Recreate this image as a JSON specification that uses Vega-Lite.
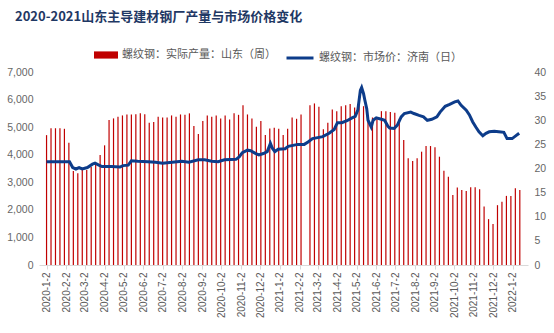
{
  "$schema": "https://vega.github.io/schema/vega-lite/v6.json",
  "autosize": {"type": "none"},
  "width": 489,
  "height": 193,
  "padding": {"left": 39, "top": 72, "right": 26, "bottom": 68},
  "background": "white",
  "config": {"view": {"stroke": null}, "font": "Noto Sans CJK SC"},
  "title": {
    "text": "2020-2021山东主导建材钢厂产量与市场价格变化",
    "anchor": "start",
    "frame": "group",
    "dx": -24,
    "dy": 13,
    "offset": 32,
    "fontSize": 13,
    "fontWeight": "bold",
    "color": "#1F3864",
    "font": "Noto Sans CJK SC"
  },
  "datasets": {
    "bars": [
      {"d": "2020-01-02", "v": 4710}, {"d": "2020-01-09", "v": 4960}, {"d": "2020-01-16", "v": 4960}, {"d": "2020-01-23", "v": 4960},
      {"d": "2020-01-30", "v": 4940}, {"d": "2020-02-06", "v": 4435}, {"d": "2020-02-13", "v": 3410}, {"d": "2020-02-20", "v": 3330},
      {"d": "2020-02-27", "v": 3470}, {"d": "2020-03-05", "v": 3450}, {"d": "2020-03-12", "v": 3550}, {"d": "2020-03-19", "v": 3700},
      {"d": "2020-03-26", "v": 3990}, {"d": "2020-04-02", "v": 4340}, {"d": "2020-04-09", "v": 5256}, {"d": "2020-04-16", "v": 5317},
      {"d": "2020-04-23", "v": 5375}, {"d": "2020-04-30", "v": 5425}, {"d": "2020-05-07", "v": 5460}, {"d": "2020-05-14", "v": 5460},
      {"d": "2020-05-21", "v": 5470}, {"d": "2020-05-28", "v": 5500}, {"d": "2020-06-04", "v": 5470}, {"d": "2020-06-11", "v": 5160},
      {"d": "2020-06-18", "v": 5190}, {"d": "2020-06-25", "v": 5375}, {"d": "2020-07-02", "v": 5350}, {"d": "2020-07-09", "v": 5350},
      {"d": "2020-07-16", "v": 5425}, {"d": "2020-07-23", "v": 5375}, {"d": "2020-07-30", "v": 5460}, {"d": "2020-08-06", "v": 5447},
      {"d": "2020-08-13", "v": 5500}, {"d": "2020-08-20", "v": 5040}, {"d": "2020-08-27", "v": 4750}, {"d": "2020-09-03", "v": 5220},
      {"d": "2020-09-10", "v": 5425}, {"d": "2020-09-17", "v": 5375}, {"d": "2020-09-24", "v": 5425}, {"d": "2020-10-01", "v": 5317},
      {"d": "2020-10-08", "v": 5425}, {"d": "2020-10-15", "v": 5280}, {"d": "2020-10-22", "v": 5500}, {"d": "2020-10-29", "v": 5447},
      {"d": "2020-11-05", "v": 5798}, {"d": "2020-11-12", "v": 5460}, {"d": "2020-11-19", "v": 5317}, {"d": "2020-11-26", "v": 5013},
      {"d": "2020-12-03", "v": 5220}, {"d": "2020-12-10", "v": 4713}, {"d": "2020-12-17", "v": 4950}, {"d": "2020-12-24", "v": 4977},
      {"d": "2020-12-31", "v": 4940}, {"d": "2021-01-07", "v": 4713}, {"d": "2021-01-14", "v": 4940}, {"d": "2021-01-21", "v": 5353},
      {"d": "2021-01-28", "v": 5303}, {"d": "2021-02-04", "v": 5460}, {"d": "2021-02-18", "v": 5798}, {"d": "2021-02-25", "v": 5860},
      {"d": "2021-03-04", "v": 5737}, {"d": "2021-03-11", "v": 4920}, {"d": "2021-03-18", "v": 5160}, {"d": "2021-03-25", "v": 5640},
      {"d": "2021-04-01", "v": 5580}, {"d": "2021-04-08", "v": 5760}, {"d": "2021-04-15", "v": 5798}, {"d": "2021-04-22", "v": 5835},
      {"d": "2021-04-29", "v": 5715}, {"d": "2021-05-06", "v": 5800}, {"d": "2021-05-13", "v": 5760}, {"d": "2021-05-20", "v": 5250},
      {"d": "2021-05-27", "v": 5350}, {"d": "2021-06-03", "v": 5350}, {"d": "2021-06-10", "v": 5580}, {"d": "2021-06-17", "v": 5580},
      {"d": "2021-06-24", "v": 5545}, {"d": "2021-07-01", "v": 5520}, {"d": "2021-07-08", "v": 5300}, {"d": "2021-07-15", "v": 4532},
      {"d": "2021-07-22", "v": 3870}, {"d": "2021-07-29", "v": 3773}, {"d": "2021-08-05", "v": 3870}, {"d": "2021-08-12", "v": 4110},
      {"d": "2021-08-19", "v": 4315}, {"d": "2021-08-26", "v": 4315}, {"d": "2021-09-02", "v": 4268}, {"d": "2021-09-09", "v": 3928},
      {"d": "2021-09-16", "v": 3422}, {"d": "2021-09-23", "v": 3205}, {"d": "2021-09-30", "v": 2543}, {"d": "2021-10-07", "v": 2807},
      {"d": "2021-10-14", "v": 2724}, {"d": "2021-10-21", "v": 2688}, {"d": "2021-10-28", "v": 2821}, {"d": "2021-11-04", "v": 2821},
      {"d": "2021-11-11", "v": 2749}, {"d": "2021-11-18", "v": 2120}, {"d": "2021-11-25", "v": 1664}, {"d": "2021-12-02", "v": 1483},
      {"d": "2021-12-09", "v": 2170}, {"d": "2021-12-16", "v": 2290}, {"d": "2021-12-23", "v": 2507}, {"d": "2021-12-30", "v": 2507},
      {"d": "2022-01-06", "v": 2785}, {"d": "2022-01-13", "v": 2724}
    ],
    "price": [
      {"d": "2020-01-02", "p": 21.4}, {"d": "2020-02-07", "p": 21.4}, {"d": "2020-02-12", "p": 20.2}, {"d": "2020-02-17", "p": 19.9},
      {"d": "2020-02-22", "p": 20.2}, {"d": "2020-02-27", "p": 19.9}, {"d": "2020-03-06", "p": 20.2}, {"d": "2020-03-14", "p": 20.9},
      {"d": "2020-03-18", "p": 21.1}, {"d": "2020-03-24", "p": 20.7}, {"d": "2020-03-29", "p": 20.4}, {"d": "2020-04-13", "p": 20.4},
      {"d": "2020-04-26", "p": 20.3}, {"d": "2020-05-01", "p": 20.6}, {"d": "2020-05-09", "p": 20.7}, {"d": "2020-05-14", "p": 21.6},
      {"d": "2020-05-24", "p": 21.5}, {"d": "2020-06-09", "p": 21.4}, {"d": "2020-06-21", "p": 21.3}, {"d": "2020-07-02", "p": 21.1},
      {"d": "2020-07-17", "p": 21.3}, {"d": "2020-08-01", "p": 21.5}, {"d": "2020-08-12", "p": 21.3}, {"d": "2020-08-27", "p": 21.8},
      {"d": "2020-09-06", "p": 21.8}, {"d": "2020-09-17", "p": 21.5}, {"d": "2020-09-27", "p": 21.4}, {"d": "2020-10-07", "p": 21.8},
      {"d": "2020-10-25", "p": 21.9}, {"d": "2020-10-30", "p": 22.4}, {"d": "2020-11-04", "p": 23.3}, {"d": "2020-11-12", "p": 23.8},
      {"d": "2020-11-17", "p": 23.7}, {"d": "2020-11-25", "p": 23.1}, {"d": "2020-11-30", "p": 22.8}, {"d": "2020-12-07", "p": 23.1},
      {"d": "2020-12-13", "p": 23.5}, {"d": "2020-12-18", "p": 25.2}, {"d": "2020-12-21", "p": 24.2}, {"d": "2020-12-25", "p": 23.5},
      {"d": "2020-12-30", "p": 24.0}, {"d": "2021-01-10", "p": 24.1}, {"d": "2021-01-15", "p": 24.6}, {"d": "2021-01-30", "p": 25.0},
      {"d": "2021-02-09", "p": 25.0}, {"d": "2021-02-15", "p": 25.5}, {"d": "2021-02-22", "p": 26.2}, {"d": "2021-03-02", "p": 26.4},
      {"d": "2021-03-10", "p": 26.6}, {"d": "2021-03-20", "p": 27.3}, {"d": "2021-03-28", "p": 28.1}, {"d": "2021-04-02", "p": 29.5},
      {"d": "2021-04-09", "p": 29.5}, {"d": "2021-04-17", "p": 29.9}, {"d": "2021-04-25", "p": 30.5}, {"d": "2021-04-30", "p": 30.8},
      {"d": "2021-05-04", "p": 32.1}, {"d": "2021-05-08", "p": 36.2}, {"d": "2021-05-10", "p": 36.8}, {"d": "2021-05-13", "p": 35.5},
      {"d": "2021-05-15", "p": 34.2}, {"d": "2021-05-18", "p": 32.4}, {"d": "2021-05-20", "p": 30.0}, {"d": "2021-05-25", "p": 28.6},
      {"d": "2021-05-28", "p": 30.0}, {"d": "2021-06-02", "p": 30.5}, {"d": "2021-06-10", "p": 30.2}, {"d": "2021-06-15", "p": 30.0},
      {"d": "2021-06-20", "p": 28.8}, {"d": "2021-06-23", "p": 28.4}, {"d": "2021-06-30", "p": 28.3}, {"d": "2021-07-05", "p": 29.0},
      {"d": "2021-07-11", "p": 30.7}, {"d": "2021-07-16", "p": 31.4}, {"d": "2021-07-26", "p": 31.7}, {"d": "2021-07-31", "p": 31.4},
      {"d": "2021-08-08", "p": 31.0}, {"d": "2021-08-15", "p": 30.7}, {"d": "2021-08-21", "p": 30.0}, {"d": "2021-08-28", "p": 30.2},
      {"d": "2021-09-05", "p": 30.7}, {"d": "2021-09-10", "p": 31.7}, {"d": "2021-09-18", "p": 32.9}, {"d": "2021-09-25", "p": 33.3},
      {"d": "2021-10-03", "p": 33.8}, {"d": "2021-10-08", "p": 34.0}, {"d": "2021-10-13", "p": 33.1}, {"d": "2021-10-21", "p": 32.1},
      {"d": "2021-10-26", "p": 31.1}, {"d": "2021-10-31", "p": 29.7}, {"d": "2021-11-05", "p": 28.6}, {"d": "2021-11-10", "p": 27.6},
      {"d": "2021-11-16", "p": 26.8}, {"d": "2021-11-21", "p": 27.3}, {"d": "2021-11-26", "p": 27.6}, {"d": "2021-12-04", "p": 27.7},
      {"d": "2021-12-11", "p": 27.6}, {"d": "2021-12-19", "p": 27.5}, {"d": "2021-12-24", "p": 26.2}, {"d": "2022-01-01", "p": 26.2},
      {"d": "2022-01-06", "p": 26.7}, {"d": "2022-01-12", "p": 27.3}
    ]
  },
  "encoding": {
    "x": {
      "field": "d",
      "type": "temporal",
      "scale": {"domain": [{"year": 2019, "month": 12, "date": 29}, {"year": 2022, "month": 1, "date": 18}]},
      "axis": {
        "title": null,
        "values": [
          {"year": 2020, "month": 1, "date": 2}, {"year": 2020, "month": 2, "date": 2}, {"year": 2020, "month": 3, "date": 2},
          {"year": 2020, "month": 4, "date": 2}, {"year": 2020, "month": 5, "date": 2}, {"year": 2020, "month": 6, "date": 2},
          {"year": 2020, "month": 7, "date": 2}, {"year": 2020, "month": 8, "date": 2}, {"year": 2020, "month": 9, "date": 2},
          {"year": 2020, "month": 10, "date": 2}, {"year": 2020, "month": 11, "date": 2}, {"year": 2020, "month": 12, "date": 2},
          {"year": 2021, "month": 1, "date": 2}, {"year": 2021, "month": 2, "date": 2}, {"year": 2021, "month": 3, "date": 2},
          {"year": 2021, "month": 4, "date": 2}, {"year": 2021, "month": 5, "date": 2}, {"year": 2021, "month": 6, "date": 2},
          {"year": 2021, "month": 7, "date": 2}, {"year": 2021, "month": 8, "date": 2}, {"year": 2021, "month": 9, "date": 2},
          {"year": 2021, "month": 10, "date": 2}, {"year": 2021, "month": 11, "date": 2}, {"year": 2021, "month": 12, "date": 2},
          {"year": 2022, "month": 1, "date": 2}
        ],
        "format": "%Y-%-m-%-d",
        "labelAngle": 270,
        "labelFontSize": 10,
        "labelFont": "Liberation Sans",
        "labelColor": "#595959",
        "labelPadding": 3,
        "domainColor": "#d9d9d9",
        "tickColor": "#d9d9d9",
        "tickSize": 4,
        "grid": false,
        "labelOverlap": false
      }
    }
  },
  "layer": [
    {
      "data": {"name": "bars"},
      "mark": {"type": "bar", "width": 1.2},
      "encoding": {
        "y": {
          "field": "v",
          "type": "quantitative",
          "scale": {"domain": [0, 7000]},
          "axis": {
            "title": null,
            "values": [0, 1000, 2000, 3000, 4000, 5000, 6000, 7000],
            "domain": false,
            "ticks": false,
            "grid": false,
            "labelFontSize": 10.5,
            "labelFont": "Liberation Sans",
            "labelColor": "#666666",
            "labelPadding": 6
          }
        },
        "color": {
          "datum": "螺纹钢：实际产量：山东（周）",
          "scale": {"range": ["#C00000"]},
          "legend": {
            "orient": "none",
            "legendX": 55,
            "legendY": -29,
            "title": null,
            "symbolType": "M-1,-0.3H1V0.3H-1Z",
            "symbolSize": 576,
            "symbolStrokeWidth": 0,
            "labelFontSize": 11,
            "labelColor": "#595959",
            "labelFont": "Noto Sans CJK SC",
            "labelOffset": 4
          }
        }
      }
    },
    {
      "data": {"name": "price"},
      "mark": {"type": "line", "strokeWidth": 3, "interpolate": "linear"},
      "encoding": {
        "y": {
          "field": "p",
          "type": "quantitative",
          "scale": {"domain": [0, 40]},
          "axis": {
            "orient": "right",
            "title": null,
            "values": [0, 5, 10, 15, 20, 25, 30, 35, 40],
            "domain": false,
            "ticks": false,
            "grid": false,
            "labelFontSize": 10.5,
            "labelFont": "Liberation Sans",
            "labelColor": "#666666",
            "labelPadding": 6
          }
        },
        "color": {
          "datum": "螺纹钢：市场价：济南（日）",
          "scale": {"range": ["#0D3C8A"]},
          "legend": {
            "orient": "none",
            "legendX": 246,
            "legendY": -29,
            "title": null,
            "symbolType": "stroke",
            "symbolSize": 729,
            "symbolStrokeWidth": 3,
            "labelFontSize": 11,
            "labelColor": "#595959",
            "labelFont": "Noto Sans CJK SC",
            "labelOffset": 4
          }
        }
      }
    }
  ],
  "resolve": {"scale": {"y": "independent", "color": "independent"}, "legend": {"color": "independent"}}
}
